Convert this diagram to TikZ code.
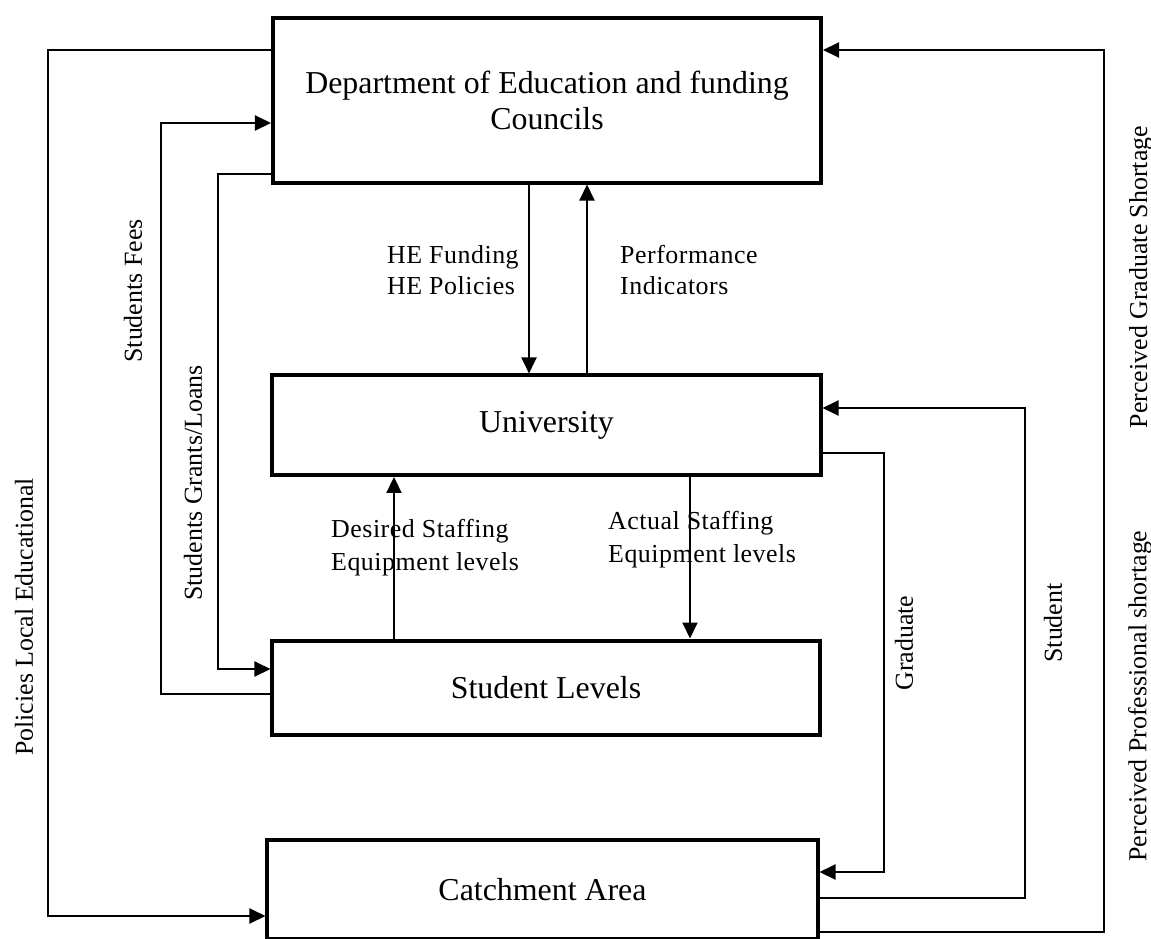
\documentclass[tikz,border=0pt]{standalone}
\usepackage{fontspec}
\setmainfont{Liberation Serif}
\usetikzlibrary{arrows.meta}
\begin{document}
\begin{tikzpicture}[x=1bp,y=-1bp,
  box/.style={draw,line width=4bp,rectangle,inner sep=0pt,
    font=\fontsize{32}{36}\selectfont,align=center},
  conn/.style={line width=2bp},
  flow/.style={conn,-{Triangle[length=16bp,width=15bp]}},
  lbl/.style={font=\fontsize{26}{31}\selectfont\addfontfeatures{LetterSpace=2},
    align=left,inner sep=0pt,anchor=west},
  lblwide/.style={lbl,font=\fontsize{26}{33}\selectfont\addfontfeatures{LetterSpace=2}},
  vlbl/.style={font=\fontsize{26}{30}\selectfont,rotate=90,inner sep=0pt}]
\useasboundingbox (0,0) rectangle (1151,939);
\clip (0,0) rectangle (1151,939);

% the four blocks
\node[box,minimum width=548bp,minimum height=165bp] (dept) at (547,100)
  {Department of Education and funding\\Councils};
\node[box,minimum width=548bp,minimum height=99.5bp] (uni) at (546.5,425.2) {University};
\node[box,minimum width=547bp,minimum height=94bp] (studl) at (546,687.5) {Student Levels};
\node[box,minimum width=550bp,minimum height=99.5bp] (catch) at (542.5,889.3) {Catchment Area};

% vertical flows between the blocks
\draw[flow] (dept.south -| 529,0) -- (uni.north -| 529,0);
\draw[flow] (uni.north -| 587,0) -- (dept.south -| 587,0);
\draw[flow] (studl.north -| 394,0) -- (uni.south -| 394,0);
\draw[flow] (uni.south -| 690,0) -- (studl.north -| 690,0);

% loops on the left
\draw[flow] (dept.west |- 0,50) -- (48,50) -- (48,916) -- (catch.west |- 0,916);
\draw[flow] (studl.west |- 0,694) -- (161,694) -- (161,123) -- (dept.west |- 0,123);
\draw[flow] (dept.west |- 0,174) -- (218,174) -- (218,669) -- (studl.west |- 0,669);

% loops on the right
\draw[flow] (uni.east |- 0,453) -- (884,453) -- (884,872) -- (catch.east |- 0,872);
\draw[flow] (catch.east |- 0,898) -- (1025,898) -- (1025,408) -- (uni.east |- 0,408);
\draw[flow] (catch.east |- 0,932) -- (1104,932) -- (1104,50) -- (dept.east |- 0,50);

% flow labels
\node[lbl] (lhe) at (387,270) {HE Funding\\HE Policies};
\node[lbl] (lperf) at (620,270) {Performance\\Indicators};
\node[lblwide] (ldes) at (331,548) {Desired Staffing\\Equipment levels};
\node[lblwide] (lact) at (608,540) {Actual Staffing\\Equipment levels};

\node[vlbl] (lfees) at (133,291) {Students Fees};
\node[vlbl] (lgrant) at (193,483) {Students Grants/Loans};
\node[vlbl] (lpol) at (24,617) {Policies Local Educational};
\node[vlbl] (lgrad) at (904,643) {Graduate};
\node[vlbl] (lstud) at (1053,623) {Student};
\node[vlbl] (lpgs) at (1141,277) {Perceived Graduate Shortage};
\node[vlbl] (lpps) at (1140,696) {Perceived Professional shortage};
\end{tikzpicture}
\end{document}
